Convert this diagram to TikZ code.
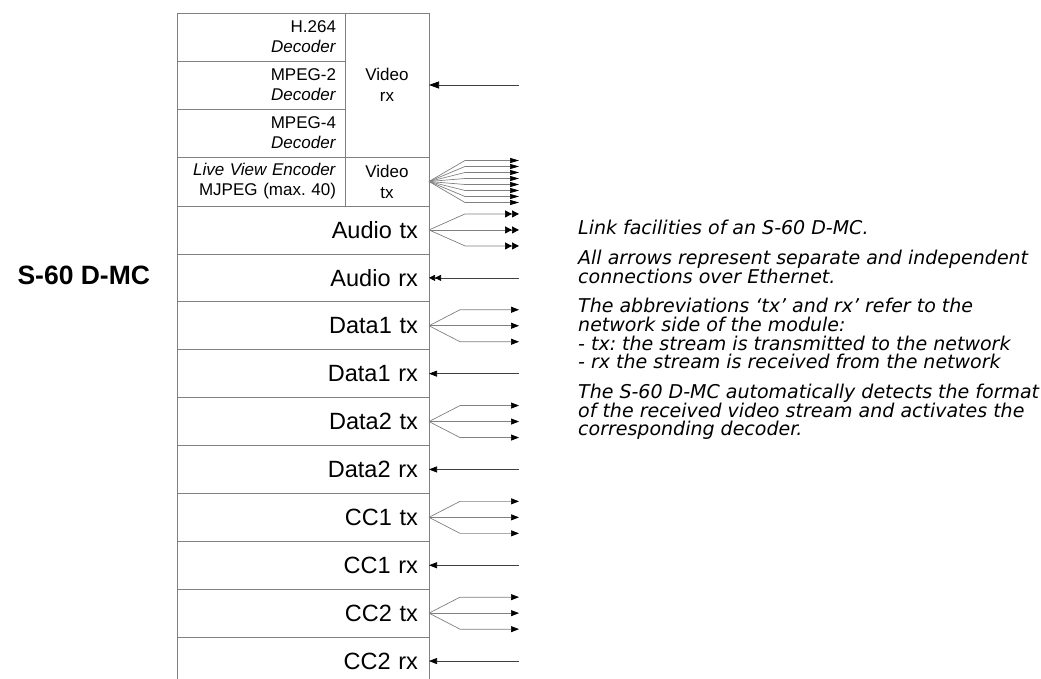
\documentclass[tikz,border=0pt]{standalone}
\usepackage{fontspec}
\setmainfont{Liberation Sans}
\newfontfamily\notefont{DejaVu Sans}
\usepackage{tikz}
\usetikzlibrary{arrows.meta,positioning,calc}
\frenchspacing
\newcommand\notestyle{\notefont\itshape\fontsize{19}{18.7}\selectfont\lineskiplimit=-20pt\relax}
\definecolor{frame}{RGB}{128,128,128}
\tikzstyle{cell_d} = [rectangle, draw=frame, line width=0.8pt, outer sep=0pt, inner xsep=9pt, text width=150pt, minimum height=48pt, align=right, font=\fontsize{17}{20}\selectfont]
\tikzstyle{cell_v} = [rectangle, draw=frame, line width=0.8pt, outer sep=0pt, inner sep=0pt, minimum width=84pt, align=center, font=\fontsize{17}{21}\selectfont]
\tikzstyle{cell_r} = [rectangle, draw=frame, line width=0.8pt, outer sep=0pt, inner xsep=11pt, text width=230pt, minimum height=47.9pt, align=right, font=\fontsize{23.5}{26}\selectfont]
\tikzstyle{link_tx} = [draw=frame, line width=0.7pt]
\tikzstyle{link_rx} = [draw=black!75, line width=0.7pt]
\begin{document}
\begin{tikzpicture}[x=1pt, y=-1pt, >={Triangle[length=8pt,width=6pt,color=black]}]
\clip (0,0) rectangle (1041,679);
% decoder / encoder side
\node [cell_d, anchor=north west] (dec1) at (177,13) {H.264\\\textit{Decoder}};
\node [cell_d, below=0pt of dec1] (dec2) {MPEG-2\\\textit{Decoder}};
\node [cell_d, below=0pt of dec2] (dec3) {MPEG-4\\\textit{Decoder}};
\node [cell_d, below=0pt of dec3, minimum height=49pt] (enc) {\textit{Live View Encoder}\\MJPEG (max. 40)};
\node [cell_v, anchor=north west, minimum height=144pt] (vrx) at (dec1.north east) {Video\\rx};
\node [cell_v, anchor=north west, minimum height=49pt] (vtx) at (enc.north east) {Video\\tx};
% stream rows
\foreach \n/\t [remember=\n as \p (initially enc)] in {atx/Audio tx, arx/Audio rx, d1tx/Data1 tx, d1rx/Data1 rx, d2tx/Data2 tx, d2rx/Data2 rx, c1tx/CC1 tx, c1rx/CC1 rx, c2tx/CC2 tx, c2rx/CC2 rx}
  \node [cell_r, anchor=north west] (\n) at (\p.south west) {\t};
\node [anchor=west, font=\bfseries\fontsize{26.5}{28}\selectfont] (module) at (14,275) {S-60 D-MC};
% network side
\coordinate (net) at (519,0);
\coordinate (bend) at (460,0);
\coordinate (bendv) at (465,0);
\draw [link_rx, {Triangle[length=10pt,width=7pt,color=black]}-] (vrx.east) -- (vrx.east -| net);
\foreach \dy in {-21,-15,...,21}
  \draw [link_tx, -{Triangle[length=9pt,width=5pt,color=black]}] (vtx.east) -- ($(vtx.east -| bendv)+(0,\dy)$) -- ($(vtx.east -| net)+(0,\dy)$);
\foreach \dy in {-16,0,16}
  \draw [link_tx, -{Triangle[length=7pt,width=7pt,color=black]Triangle[length=7pt,width=7pt,color=black]}] (atx.east) -- ($(atx.east -| bendv)+(0,\dy)$) -- ($(atx.east -| net)+(0,\dy)$);
\draw [link_rx, {Triangle[length=6pt,width=6pt,color=black]Triangle[length=6pt,width=6pt,color=black]}-] (arx.east) -- (arx.east -| net);
\foreach \n in {d1tx,d2tx,c1tx,c2tx}
  \foreach \dy in {-16,0,16}
    \draw [link_tx, ->] (\n.east) -- ($(\n.east -| bend)+(0,\dy)$) -- ($(\n.east -| net)+(0,\dy)$);
\foreach \n in {d1rx,d2rx,c1rx,c2rx}
  \draw [link_rx, <-] (\n.east) -- (\n.east -| net);
% notes
\node [anchor=north west, inner sep=0pt, align=left, font=\notestyle] (notes) at (578,220) {Link facilities of an S-60 D-MC.\\[11pt]
All arrows represent separate and independent\\
connections over Ethernet.\\[11pt]
The abbreviations ‘tx’ and rx’ refer to the\\
network side of the module:\\
- tx: the stream is transmitted to the network\\
- rx the stream is received from the network\\[11pt]
The S-60 D-MC automatically detects the format\\
of the received video stream and activates the\\
corresponding decoder.};
\end{tikzpicture}
\end{document}
